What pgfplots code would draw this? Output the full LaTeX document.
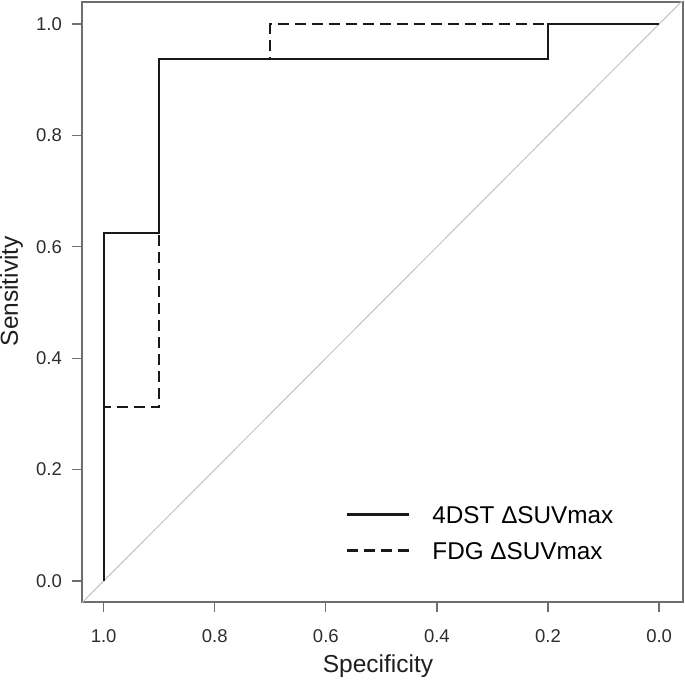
\documentclass[border=0pt]{standalone}
\usepackage{pgfplots}
\pgfplotsset{compat=1.18}
\usepackage{fontspec}
\setmainfont{Liberation Sans}
\definecolor{axgray}{RGB}{110,110,110}
\definecolor{txtgray}{RGB}{45,45,45}
\definecolor{diag}{RGB}{195,195,195}
\begin{document}
\begin{tikzpicture}[x=1pt,y=1pt]
\useasboundingbox (-82,-81) rectangle (603,602);
\begin{axis}[
  at={(0,0)}, anchor=south west,
  scale only axis, width=601pt, height=600pt,
  x dir=reverse,
  xmin=-0.043, xmax=1.039, ymin=-0.0377, ymax=1.0395,
  xtick={0,0.2,0.4,0.6,0.8,1}, xticklabels={0.0,0.2,0.4,0.6,0.8,1.0},
  ytick={0,0.2,0.4,0.6,0.8,1}, yticklabels={0.0,0.2,0.4,0.6,0.8,1.0},
  /pgf/number format/assume math mode=true,
  tick pos=left, tick align=outside, major tick length=10pt,
  tick style={axgray, line width=1.3pt},
  axis line style={axgray, line width=1.3pt},
  ticklabel style={font=\fontsize{18.5}{21}\selectfont, color=txtgray, inner sep=0pt},
  xticklabel style={anchor=north, text height=13.2pt, text depth=0pt, yshift=-17.5pt},
  yticklabel style={anchor=east, xshift=-10pt},
  xlabel={Specificity}, ylabel={Sensitivity},
  label style={font=\fontsize{24.5}{27}\selectfont, color=black!88, inner sep=0pt},
  x label style={at={(axis description cs:0.4925,-0.1183)}, anchor=base},
  y label style={at={(axis description cs:-0.1065,0.518)}, anchor=base},
  legend style={draw=none, fill=none, at={(0.4393,0.1607)}, anchor=north west,
    inner sep=0pt, nodes={inner sep=0pt, text height=17.4pt, text depth=0pt},
    column sep=22pt, row sep=18.6pt, font=\fontsize{24.3}{27}\selectfont},
  legend cell align=left,
  legend image code/.code={\draw[#1] (0pt,0pt) -- (62pt,0pt);},
]
\addplot[diag, line width=1pt, forget plot] coordinates {(1.039,-0.039) (-0.043,1.043)};
\addplot[black!90, line width=2.2pt] coordinates {
  (1,0) (1,0.625) (0.9,0.625) (0.9,0.9375) (0.2,0.9375) (0.2,1) (0,1)};
\addlegendentry{4DST ΔSUVmax}
\addplot[black!90, line width=2.2pt, dash pattern=on 11pt off 6pt] coordinates {
  (1,0) (1,0.3125) (0.9,0.3125) (0.9,0.9375) (0.7,0.9375) (0.7,1) (0,1)};
\addlegendentry{FDG ΔSUVmax}
\end{axis}
\end{tikzpicture}
\end{document}
